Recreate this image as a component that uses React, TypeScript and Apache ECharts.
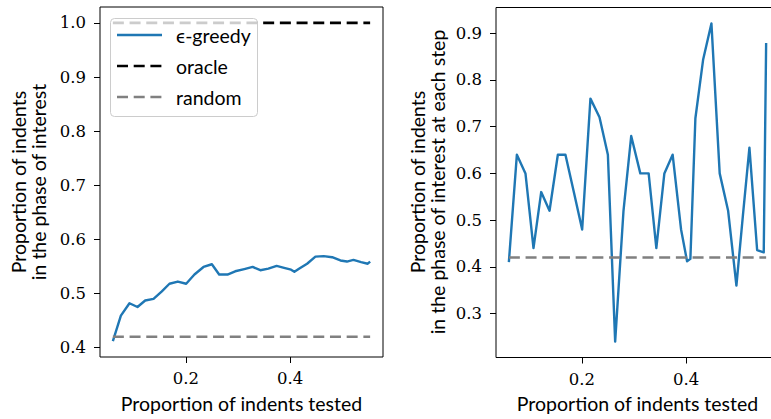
import React, { useEffect, useRef } from "react";
import * as echarts from "echarts";

// Proportion of indents tested (x values, shared by both panels)
const X_VALUES = [
  0.0596, 0.075, 0.0915, 0.1069, 0.1217, 0.1377, 0.1537, 0.1683, 0.1844, 0.2004,
  0.2163, 0.2337, 0.2498, 0.2638, 0.2798, 0.2946, 0.3121, 0.3281, 0.3429, 0.3583,
  0.3742, 0.3904, 0.4019, 0.4083, 0.4179, 0.4327, 0.4487, 0.4646, 0.4808, 0.4967,
  0.5092, 0.5217, 0.5365, 0.5492, 0.5538,
];

// Left panel: cumulative proportion in phase of interest (epsilon-greedy)
const CUMULATIVE = [
  0.412, 0.459, 0.482, 0.475, 0.487, 0.49, 0.504, 0.518, 0.522, 0.518,
  0.535, 0.549, 0.554, 0.535, 0.535, 0.541, 0.545, 0.549, 0.543, 0.546,
  0.551, 0.547, 0.544, 0.54, 0.546, 0.555, 0.568, 0.569, 0.567, 0.561,
  0.559, 0.562, 0.558, 0.555, 0.559,
];

// Right panel: proportion in phase of interest at each step
const PER_STEP = [
  0.41, 0.64, 0.6, 0.44, 0.56, 0.52, 0.64, 0.64, 0.56, 0.48,
  0.76, 0.72, 0.64, 0.24, 0.52, 0.68, 0.6, 0.6, 0.44, 0.6,
  0.64, 0.48, 0.412, 0.417, 0.718, 0.843, 0.921, 0.6, 0.52, 0.36,
  0.51, 0.655, 0.436, 0.431, 0.879,
];

const ORACLE = 1.0;
const RANDOM = 0.42;

const X_TICKS = [0.2, 0.4];
const LEFT_Y_TICKS = [0.4, 0.5, 0.6, 0.7, 0.8, 0.9, 1.0];
const RIGHT_Y_TICKS = [0.3, 0.4, 0.5, 0.6, 0.7, 0.8, 0.9];

const SERIES_NAMES = ["ϵ-greedy", "oracle", "random"];
const X_TITLE = "Proportion of indents tested";
const LEFT_Y_TITLE = "Proportion of indents\nin the phase of interest";
const RIGHT_Y_TITLE = "Proportion of indents\nin the phase of interest at each step";

const SANS = "Lato";
const SERIF = "DejaVu Serif";
const BLUE = "#1f77b4";
const GRAY = "#808080";
const DASH = [11, 5.7];

function padRange(vals: number[]) {
  const lo = Math.min(...vals);
  const hi = Math.max(...vals);
  const m = (hi - lo) * 0.05;
  return [lo - m, hi + m];
}

export default function App() {
  const ref = useRef<HTMLDivElement>(null);

  useEffect(() => {
    if (!ref.current) return;
    const chart = echarts.init(ref.current, undefined, { renderer: "svg" });

    const first = X_VALUES[0];
    const last = X_VALUES[X_VALUES.length - 1];
    const [xMin, xMax] = padRange(X_VALUES);
    const [lyMin, lyMax] = padRange([...CUMULATIVE, ORACLE, RANDOM]);
    const [ryMin, ryMax] = padRange([...PER_STEP, RANDOM]);

    const fmt = (v: number) => v.toFixed(1);

    const xAxisBase = (gridIndex: number) => ({
      type: "value" as const,
      gridIndex,
      min: xMin,
      max: xMax,
      splitLine: { show: false },
      axisLine: { show: false },
      axisTick: {
        show: true,
        customValues: X_TICKS,
        length: 6,
        lineStyle: { color: "#000", width: 1 },
      },
      axisLabel: {
        customValues: X_TICKS,
        formatter: fmt,
        margin: 13,
        fontFamily: SERIF,
        fontSize: 16.5,
        color: "#000",
      },
      name: X_TITLE,
      nameLocation: "middle" as const,
      nameGap: 36,
      nameTextStyle: { fontFamily: SANS, fontSize: 19.5, color: "#000" },
    });

    const yAxisBase = (gridIndex: number, min: number, max: number, ticks: number[]) => ({
      type: "value" as const,
      gridIndex,
      min,
      max,
      splitLine: { show: false },
      axisLine: { show: false },
      axisTick: {
        show: true,
        customValues: ticks,
        length: 6,
        lineStyle: { color: "#000", width: 1 },
      },
      axisLabel: {
        customValues: ticks,
        formatter: fmt,
        margin: 14,
        fontFamily: SERIF,
        fontSize: 16.5,
        color: "#000",
      },
    });

    const lineSeries = (
      name: string,
      idx: number,
      data: number[][],
      color: string,
      dashed: boolean
    ) => ({
      type: "line" as const,
      name,
      xAxisIndex: idx,
      yAxisIndex: idx,
      data,
      symbol: "none",
      showSymbol: false,
      lineStyle: dashed
        ? { color, width: 2.6, type: DASH }
        : { color, width: 2.4, join: "round" },
      itemStyle: { color },
      z: 2,
    });

    // legend (drawn like matplotlib's: handle lines + labels in a rounded box)
    const legendRows = [
      { name: SERIES_NAMES[0], color: BLUE, dash: null as number[] | null, y: 35 },
      { name: SERIES_NAMES[1], color: "#000", dash: DASH, y: 66 },
      { name: SERIES_NAMES[2], color: GRAY, dash: DASH, y: 97 },
    ];
    const legendGraphics: any[] = [
      {
        type: "rect",
        shape: { x: 110.5, y: 18.5, width: 147, height: 98, r: 4 },
        style: { fill: "rgba(255,255,255,0.8)", stroke: "#cccccc", lineWidth: 1 },
        z: 10,
      },
    ];
    legendRows.forEach((r) => {
      legendGraphics.push({
        type: "line",
        shape: { x1: 117, y1: r.y, x2: 162, y2: r.y },
        style: {
          stroke: r.color,
          lineWidth: r.dash ? 2.6 : 2.4,
          lineDash: r.dash || undefined,
        },
        z: 11,
      });
      legendGraphics.push({
        type: "text",
        x: 176,
        y: r.y,
        style: {
          text: r.name,
          fontFamily: SANS,
          fontSize: 19.5,
          verticalAlign: "middle",
          align: "left",
          fill: "#000",
        },
        z: 11,
      });
    });

    chart.setOption({
      animation: false,
      backgroundColor: "#fff",
      grid: [
        { left: 100, top: 7, width: 283, height: 350, show: true, borderColor: "#000", borderWidth: 1, backgroundColor: "transparent" },
        { left: 496, top: 7.5, width: 283, height: 350, show: true, borderColor: "#000", borderWidth: 1, backgroundColor: "transparent" },
      ],
      xAxis: [xAxisBase(0), xAxisBase(1)],
      yAxis: [
        yAxisBase(0, lyMin, lyMax, LEFT_Y_TICKS),
        yAxisBase(1, ryMin, ryMax, RIGHT_Y_TICKS),
      ],
      series: [
        lineSeries(SERIES_NAMES[0], 0, X_VALUES.map((x, i) => [x, CUMULATIVE[i]]), BLUE, false),
        lineSeries(SERIES_NAMES[1], 0, [[first, ORACLE], [last, ORACLE]], "#000", true),
        lineSeries(SERIES_NAMES[2], 0, [[first, RANDOM], [last, RANDOM]], GRAY, true),
        lineSeries(SERIES_NAMES[0], 1, X_VALUES.map((x, i) => [x, PER_STEP[i]]), BLUE, false),
        lineSeries(SERIES_NAMES[2], 1, [[first, RANDOM], [last, RANDOM]], GRAY, true),
      ],
      graphic: [
        ...legendGraphics,
        {
          type: "text",
          x: 28,
          y: 182,
          rotation: Math.PI / 2,
          style: {
            text: LEFT_Y_TITLE,
            fontFamily: SANS,
            fontSize: 19.5,
            lineHeight: 20,
            align: "center",
            verticalAlign: "middle",
            fill: "#000",
          },
        },
        {
          type: "text",
          x: 427,
          y: 182,
          rotation: Math.PI / 2,
          style: {
            text: RIGHT_Y_TITLE,
            fontFamily: SANS,
            fontSize: 19.5,
            lineHeight: 20,
            align: "center",
            verticalAlign: "middle",
            fill: "#000",
          },
        },
      ],
    });

    return () => chart.dispose();
  }, []);

  return (
    <div
      style={{
        position: "fixed",
        left: 0,
        top: 0,
        width: 771,
        height: 419,
        overflow: "hidden",
        background: "#fff",
      }}
    >
      <div ref={ref} style={{ width: 800, height: 419 }} />
    </div>
  );
}
